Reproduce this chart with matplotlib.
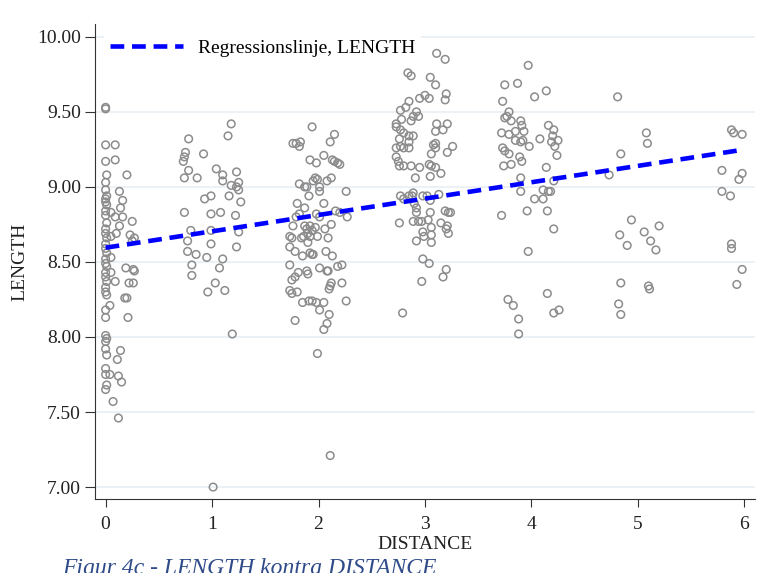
import matplotlib
matplotlib.use("Agg")
import matplotlib.pyplot as plt

plt.rcParams['font.family'] = ['Liberation Serif', 'DejaVu Serif']

# DISTANCE / LENGTH, one pair of lists per distance group
dist_0 = [0.0, 0.0, 0.0, 0.0, 0.01, 0.0, 0.0, 0.01, 0.0, 0.0, 0.01, 0.0, 0.0, 0.01, 0.0, 0.0,
          0.01, 0.0, 0.0, 0.01, 0.0, 0.0, 0.01, 0.0, 0.0, 0.01, 0.0, 0.0, 0.01, 0.0, 0.0,
          0.0, 0.01, 0.0, 0.0, 0.01, 0.0, 0.0, 0.01, 0.0,
          0.09, 0.09, 0.20, 0.13, 0.16, 0.14, 0.05, 0.09, 0.16, 0.13, 0.10, 0.05, 0.25,
          0.23, 0.27, 0.25, 0.05, 0.19, 0.26, 0.27, 0.05, 0.09, 0.22, 0.26, 0.18, 0.20,
          0.04, 0.21, 0.14, 0.11, 0.04, 0.12, 0.15, 0.07, 0.12]
len_0 = [9.53, 9.52, 9.28, 9.17, 9.08, 9.03, 8.98, 8.94, 8.92, 8.90, 8.88, 8.84, 8.81, 8.76,
         8.72, 8.69, 8.66, 8.62, 8.59, 8.56, 8.52, 8.49, 8.47, 8.43, 8.40, 8.37, 8.33, 8.30,
         8.28, 8.18, 8.13,
         8.01, 7.99, 7.97, 7.92, 7.88, 7.79, 7.75, 7.68, 7.65,
         9.28, 9.18, 9.08, 8.97, 8.91, 8.86, 8.83, 8.80, 8.80, 8.74, 8.69, 8.67, 8.77,
         8.68, 8.66, 8.64, 8.53, 8.46, 8.45, 8.44, 8.43, 8.37, 8.36, 8.36, 8.26, 8.26,
         8.21, 8.13, 7.91, 7.85, 7.75, 7.74, 7.70, 7.57, 7.46]

dist_1 = [0.78, 1.18, 1.15, 0.75, 0.74, 0.73, 0.92, 0.78, 0.74, 0.86, 1.04, 1.10, 1.10,
          1.23, 1.25, 1.18, 1.23, 1.25, 1.16, 1.27, 0.93, 0.99, 0.74, 0.99, 1.08, 1.22,
          0.80, 0.99, 1.25, 0.77, 0.99, 1.23, 0.77, 0.85, 0.95, 1.10, 0.81, 1.07, 0.81,
          1.03, 0.96, 1.12, 1.19, 1.01]
len_1 = [9.32, 9.42, 9.34, 9.23, 9.20, 9.17, 9.22, 9.11, 9.06, 9.06, 9.12, 9.08, 9.04,
         9.10, 9.03, 9.01, 9.00, 8.98, 8.94, 8.90, 8.92, 8.94, 8.83, 8.82, 8.83, 8.81,
         8.71, 8.71, 8.70, 8.64, 8.62, 8.60, 8.57, 8.55, 8.53, 8.52, 8.48, 8.46, 8.41,
         8.36, 8.30, 8.31, 8.02, 7.00]

dist_2 = [1.94, 1.76, 1.79, 1.83, 1.82, 2.15, 2.11, 1.92, 1.98, 2.05, 2.13, 2.15, 2.18,
          2.20, 1.97, 1.99, 1.95, 2.12, 2.08, 1.82, 1.87, 1.89, 2.01, 2.01, 1.91, 2.26,
          2.05, 1.80, 1.87, 1.82, 1.79, 1.98, 2.16, 2.20, 2.27, 2.01, 1.76, 1.87, 1.89,
          1.92, 1.94, 1.97, 2.12, 2.06, 1.90, 1.92, 1.86, 1.99, 1.73, 1.75, 2.09, 1.84,
          1.90, 1.73, 1.78, 1.85, 1.92, 1.94, 1.95, 2.07, 2.13, 1.73, 1.81, 1.89, 1.90,
          2.01, 2.08, 2.09, 2.18, 2.22, 1.75, 1.78, 1.73, 1.75, 1.80, 2.11, 2.12, 2.10,
          2.22, 1.85, 1.91, 1.94, 1.98, 2.05, 2.01, 2.26, 2.10, 1.78, 2.08, 2.05, 1.99,
          2.11]
len_2 = [9.40, 9.29, 9.29, 9.30, 9.27, 9.35, 9.30, 9.18, 9.16, 9.21, 9.18, 9.17, 9.16,
         9.15, 9.06, 9.05, 9.04, 9.06, 9.04, 9.02, 9.00, 9.00, 9.00, 8.97, 8.94, 8.97,
         8.89, 8.89, 8.86, 8.82, 8.80, 8.82, 8.84, 8.83, 8.80, 8.80, 8.74, 8.74, 8.72,
         8.74, 8.71, 8.73, 8.75, 8.72, 8.69, 8.67, 8.67, 8.67, 8.67, 8.66, 8.66, 8.66,
         8.63, 8.60, 8.57, 8.54, 8.56, 8.55, 8.55, 8.57, 8.54, 8.48, 8.43, 8.44, 8.42,
         8.46, 8.44, 8.44, 8.47, 8.48, 8.38, 8.40, 8.31, 8.29, 8.30, 8.34, 8.36, 8.32,
         8.36, 8.23, 8.24, 8.24, 8.23, 8.23, 8.18, 8.24, 8.15, 8.11, 8.09, 8.05, 7.89,
         7.21]

dist_3 = [3.11, 3.19, 2.84, 2.87, 3.05, 3.10, 3.20, 3.19, 2.95, 3.00, 3.04, 2.85, 2.82,
          2.77, 2.92, 2.89, 2.94, 2.73, 2.78, 2.87, 2.73, 2.77, 2.80, 2.76, 2.85, 2.89,
          2.85, 3.11, 3.21, 3.10, 3.17, 2.73, 2.77, 2.80, 2.85, 3.08, 3.10, 3.10, 3.26,
          3.21, 3.06, 2.73, 2.75, 2.80, 2.76, 2.87, 2.95, 3.04, 3.06, 3.10, 3.15, 3.05,
          2.91, 2.77, 2.80, 2.85, 2.88, 2.89, 2.98, 3.02, 3.13, 3.05, 2.90, 2.92, 2.92,
          3.05, 3.19, 3.22, 3.24, 2.76, 2.89, 2.94, 2.97, 3.03, 3.15, 3.21, 3.06, 3.20,
          3.22, 2.98, 2.99, 3.06, 2.92, 3.06, 2.98, 3.04, 3.20, 3.17, 2.97, 2.79]
len_3 = [9.89, 9.85, 9.76, 9.74, 9.73, 9.68, 9.62, 9.58, 9.59, 9.61, 9.59, 9.57, 9.53,
         9.51, 9.50, 9.47, 9.47, 9.42, 9.45, 9.44, 9.40, 9.38, 9.36, 9.32, 9.34, 9.34,
         9.30, 9.42, 9.42, 9.37, 9.38, 9.26, 9.27, 9.26, 9.26, 9.28, 9.29, 9.26, 9.27,
         9.23, 9.22, 9.20, 9.17, 9.14, 9.14, 9.14, 9.13, 9.15, 9.14, 9.13, 9.09, 9.07,
         9.06, 8.94, 8.92, 8.94, 8.94, 8.96, 8.94, 8.94, 8.95, 8.91, 8.89, 8.86, 8.83,
         8.83, 8.84, 8.83, 8.83, 8.76, 8.77, 8.77, 8.77, 8.78, 8.76, 8.74, 8.73, 8.72,
         8.69, 8.70, 8.67, 8.68, 8.64, 8.63, 8.52, 8.49, 8.45, 8.40, 8.37, 8.16]

dist_4 = [3.97, 3.75, 3.87, 3.73, 4.03, 4.14, 3.79, 3.77, 3.75, 3.81, 3.90, 3.91, 3.85,
          3.93, 3.72, 3.79, 3.85, 3.92, 3.90, 3.98, 4.08, 3.73, 3.75, 3.79, 3.89, 3.91,
          3.74, 3.81, 4.16, 4.21, 4.20, 4.25, 4.19, 4.22, 4.24, 4.14, 3.90, 3.90, 4.11,
          4.16, 4.18, 4.21, 4.03, 4.11, 3.96, 4.15, 3.72, 4.21, 3.97, 3.78, 3.83, 3.88,
          3.88, 4.15, 4.21, 4.26]
len_4 = [9.81, 9.68, 9.69, 9.57, 9.60, 9.64, 9.50, 9.47, 9.46, 9.44, 9.44, 9.41, 9.37,
         9.37, 9.36, 9.35, 9.31, 9.31, 9.30, 9.27, 9.32, 9.26, 9.24, 9.22, 9.20, 9.17,
         9.14, 9.15, 9.41, 9.38, 9.34, 9.31, 9.30, 9.27, 9.21, 9.13, 9.06, 8.97, 8.98,
         8.97, 8.97, 9.04, 8.92, 8.92, 8.84, 8.84, 8.81, 8.72, 8.57, 8.25, 8.21, 8.12,
         8.02, 8.29, 8.16, 8.18]

dist_5 = [4.81, 5.08, 5.09, 4.84, 4.73, 4.94, 4.83, 4.90, 5.06, 5.12, 5.20, 5.17, 4.84,
          5.10, 5.11, 4.82, 4.84]
len_5 = [9.60, 9.36, 9.29, 9.22, 9.08, 8.78, 8.68, 8.61, 8.70, 8.64, 8.74, 8.58, 8.36,
         8.34, 8.32, 8.22, 8.15]

dist_6 = [5.88, 5.90, 5.98, 5.79, 5.98, 5.95, 5.79, 5.87, 5.88, 5.88, 5.98, 5.93]
len_6 = [9.38, 9.36, 9.35, 9.11, 9.09, 9.05, 8.97, 8.94, 8.62, 8.59, 8.45, 8.35]

# regression line as drawn in the source
reg_intercept = 8.595
reg_slope = 0.109
reg_x = [0, 6]

y_ticks = [7.0, 7.5, 8.0, 8.5, 9.0, 9.5, 10.0]
x_ticks = [0, 1, 2, 3, 4, 5, 6]

fig = plt.figure(figsize=(7.61, 5.73), dpi=100)
ax = fig.add_axes([0.1248, 0.129, 0.8672, 0.829])

all_x = dist_0 + dist_1 + dist_2 + dist_3 + dist_4 + dist_5 + dist_6
all_y = len_0 + len_1 + len_2 + len_3 + len_4 + len_5 + len_6
ax.scatter(all_x, all_y, s=30, facecolors='none', edgecolors='#8c8c8c',
           linewidths=1.1, zorder=3)

reg_y = [reg_intercept + reg_slope * v for v in reg_x]
ax.plot(reg_x, reg_y, color='#0000ff', lw=3.3, linestyle=(0, (3.0, 1.7)),
        zorder=4, label='Regressionslinje, LENGTH')

ax.set_xlim(-0.1, 6.1)
ax.set_ylim(6.92, 10.085)
ax.set_yticks(y_ticks)
ax.set_yticklabels(['%.2f' % v for v in y_ticks])
ax.set_xticks(x_ticks)
ax.yaxis.grid(True, color='#e9eff3', lw=1.2, zorder=0)
ax.set_axisbelow(True)

for side in ['top', 'right']:
    ax.spines[side].set_visible(False)
ax.spines['left'].set_color('#333333')
ax.spines['bottom'].set_color('#333333')
ax.tick_params(axis='y', length=7, color='#333333', labelsize=14, labelcolor='#222222', pad=3)
ax.tick_params(axis='x', length=6, color='#333333', labelsize=14, labelcolor='#222222', pad=6)

ax.set_xlabel('DISTANCE', fontsize=14, color='#222222', labelpad=2)
ax.set_ylabel('LENGTH', fontsize=14, color='#222222', labelpad=6)

leg = ax.legend(loc='center left', bbox_to_anchor=(0.0136, 0.949), borderaxespad=0,
                fontsize=14, handlelength=3.75, handletextpad=0.77,
                frameon=True, borderpad=0.3)
leg.get_frame().set_facecolor('white')
leg.get_frame().set_edgecolor('none')
leg.get_frame().set_alpha(1.0)

fig.text(62 / 761, (573 - 558) / 573, 'Figur 4c - LENGTH kontra DISTANCE',
         fontsize=17, style='italic', color='#2f4b8a', va='top', ha='left')

fig.savefig('out.png', dpi=100)
